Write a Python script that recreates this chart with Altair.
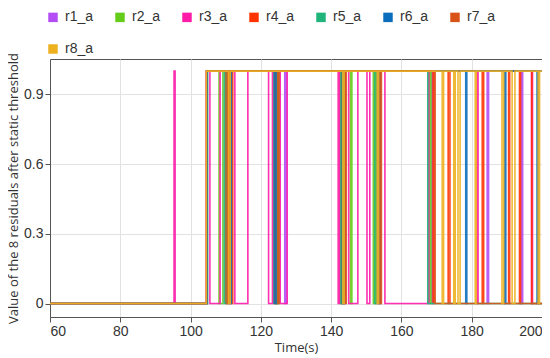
import altair as alt
import pandas as pd

series = ["r1_a", "r2_a", "r3_a", "r4_a", "r5_a", "r6_a", "r7_a", "r8_a"]
colors = ["#b44cf5", "#66cc1a", "#ff1aa8", "#ff3300", "#1fb47a", "#0a6ebd", "#d95319", "#edb120"]

# switching instants (s) of each binary residual, starting from 0
r1_t = [104.6, 111.0, 111.4, 124.2, 124.6, 126.8, 127.2, 143.6, 144.0, 152.8, 153.2,
        168.6, 169.0, 184.4, 184.8, 194.1, 194.5]
r2_t = [104.8, 108.1, 109.2, 123.7, 125.0, 142.6, 143.2, 145.5, 145.9, 152.0, 152.6,
        168.0, 168.4]
r3_t = [95.3, 95.6, 104.5, 105.5, 108.4, 112.6, 116.3, 122.2, 123.3, 125.5, 127.5,
        142.0, 142.4, 145.0, 147.6, 150.2, 151.0, 155.3, 167.8, 181.5, 181.8, 197.0, 197.3]
r4_t = [104.6, 110.0, 110.6, 111.5, 112.0, 124.0, 124.4, 143.0, 143.6, 153.4, 153.8,
        169.0, 169.3, 173.3, 173.8, 183.0, 183.4, 190.5, 190.8, 193.6, 193.9, 197.1]
r5_t = [104.7, 109.6, 110.2, 124.5, 125.0, 142.8, 143.4, 152.4, 153.0, 167.5]
r6_t = [104.8, 111.2, 111.6, 123.8, 124.3, 143.2, 143.8, 153.6, 154.0, 178.3, 178.6,
        189.4, 189.7, 198.6, 199.0]
r7_t = [104.5, 110.4, 110.9, 124.8, 125.2, 143.9, 144.3, 153.9, 154.3, 169.6]
r8_t = [104.5, 110.8, 111.3, 143.3, 143.7, 153.1, 153.5, 171.6, 172.0, 174.9, 175.3,
        176.1, 176.7, 181.0, 181.3, 188.6, 189.1, 191.5, 192.3, 198.9, 199.3]

switches = [r1_t, r2_t, r3_t, r4_t, r5_t, r6_t, r7_t, r8_t]
t_start, t_end = 60, 200

rows = []
for name, ts in zip(series, switches):
    state = 0
    rows.append({"s": name, "t": t_start, "v": state})
    for t in ts:
        state = 1 - state
        rows.append({"s": name, "t": t, "v": state})
    rows.append({"s": name, "t": t_end, "v": state})
df = pd.DataFrame(rows)

chart = alt.Chart(df).mark_line(
    interpolate="step-after", strokeWidth=1.6, opacity=0.9, clip=True
).encode(
    x=alt.X("t:Q",
            scale=alt.Scale(domain=[60, 200], nice=False, zero=False),
            axis=alt.Axis(values=list(range(60, 201, 20)), title="Time(s)",
                          titlePadding=3)),
    y=alt.Y("v:Q",
            scale=alt.Scale(domain=[-0.058, 1.052], nice=False, zero=False),
            axis=alt.Axis(values=[0, 0.3, 0.6, 0.9], format="~g",
                          title="Value of the 8 residuals after static threshold",
                          titlePadding=3)),
    color=alt.Color("s:N", sort=series,
                    scale=alt.Scale(domain=series, range=colors),
                    legend=alt.Legend(orient="none", legendX=-4, legendY=-49,
                                      columns=7, direction="horizontal",
                                      symbolType="square", symbolSize=20,
                                      symbolStrokeWidth=5, symbolOpacity=1,
                                      labelFontSize=14, labelFont="Liberation Sans",
                                      labelColor="#333", columnPadding=13,
                                      rowPadding=6, labelOffset=5, title=None)),
    order=alt.Order("s:N"),
).properties(
    width=492, height=258,
    autosize=alt.AutoSizeParams(type="none"),
    padding={"left": 42, "top": 51, "right": 0, "bottom": 40},
).configure_view(
    stroke="#555", strokeWidth=1
).configure_axis(
    domainColor="#555", tickColor="#555", tickSize=5,
    gridColor="#e2e2e2", grid=True,
    labelFont="Liberation Sans", labelFontSize=14, labelColor="#333",
    titleFont="Open Sans", titleFontSize=13, titleFontWeight="normal", titleColor="#333",
)

chart.save("out.html", embed_options={"renderer": "svg", "actions": False})
